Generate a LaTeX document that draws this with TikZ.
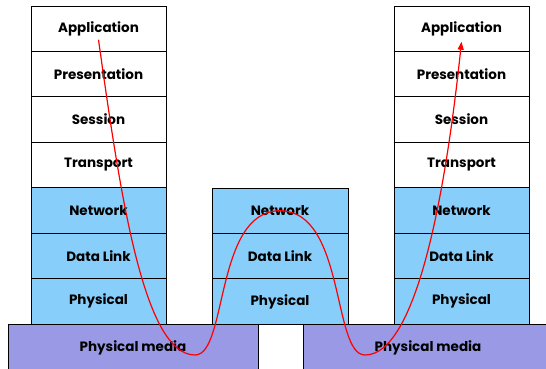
\documentclass[tikz,border=0pt]{standalone}
\usepackage{fontspec}
\setmainfont{Poppins}
\usetikzlibrary{arrows.meta}
\usetikzlibrary{positioning}

\definecolor{layerblue}{RGB}{135,206,250}
\definecolor{mediapurple}{RGB}{153,153,230}

\begin{document}
\begin{tikzpicture}[x=1pt, y=1pt, node distance=0pt,
	layer/.style={rectangle, draw, line width=0.8pt, outer sep=0pt, minimum width=135pt, minimum height=45.43pt, font=\bfseries\fontsize{13.5}{15}\selectfont},
	upper/.style={layer, fill=white},
	lower/.style={layer, fill=layerblue},
	media/.style={rectangle, draw, line width=0.8pt, outer sep=0pt, fill=mediapurple, minimum width=250pt, minimum height=48pt, anchor=north west, font=\bfseries\fontsize{13.5}{15}\selectfont}]
	\useasboundingbox (0,0) rectangle (546,368);
	
	% --- Physical media ---
	\node[media] (lmedia) at (8,44) {Physical media};
	\node[media] (rmedia) at (303,44) {Physical media};
	
	% --- Left stack ---
	\node[upper, anchor=north west] (lapp) at (31,362) {Application};
	\node[upper, below=of lapp] (lpres) {Presentation};
	\node[upper, below=of lpres] (lses) {Session};
	\node[upper, below=of lses] (ltrans) {Transport};
	\node[lower, below=of ltrans] (lnet) {Network};
	\node[lower, below=of lnet] (llink) {Data Link};
	\node[lower, below=of llink] (lphys) {Physical};
	
	% --- Middle stack ---
	\node[lower, minimum width=136pt, anchor=north west] (mnet) at (212,180) {Network};
	\node[lower, minimum width=136pt, below=of mnet] (mlink) {Data Link};
	\node[lower, minimum width=136pt, below=of mlink] (mphys) {Physical};
	
	% --- Right stack ---
	\node[upper, anchor=north west] (rapp) at (394,362) {Application};
	\node[upper, below=of rapp] (rpres) {Presentation};
	\node[upper, below=of rpres] (rses) {Session};
	\node[upper, below=of rses] (rtrans) {Transport};
	\node[lower, below=of rtrans] (rnet) {Network};
	\node[lower, below=of rnet] (rlink) {Data Link};
	\node[lower, below=of rlink] (rphys) {Physical};
	
	% --- Data path ---
	\coordinate (dipl) at (195,13);
	\coordinate (dipr) at (365,13);
	\draw[red, line width=1.2pt, -{Triangle[length=8pt, width=6pt]}]
		([yshift=-11pt]lapp.center) to[out=-82, in=180, out looseness=1.2, in looseness=0.4] (dipl)
		to[out=0, in=180, out looseness=0.5, in looseness=1] (mnet.center)
		to[out=0, in=180, out looseness=1, in looseness=0.5] (dipr)
		to[out=0, in=-96, out looseness=0.4, in looseness=1.2] ([yshift=-13pt]rapp.center);
\end{tikzpicture}
\end{document}
